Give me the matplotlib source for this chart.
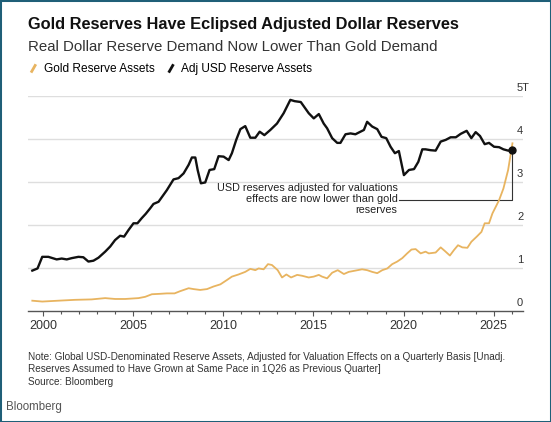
import matplotlib
matplotlib.use("Agg")
import matplotlib.pyplot as plt
from matplotlib.lines import Line2D
from matplotlib.legend_handler import HandlerBase
from matplotlib.patches import Rectangle

plt.rcParams['font.family'] = ['Liberation Sans', 'DejaVu Sans']

# Adj USD reserve assets (trillions)
usd_years = [1999.41, 1999.70, 1999.96, 2000.30, 2000.76, 2001.04, 2001.32, 2001.60,
             2001.97, 2002.24, 2002.52, 2002.80, 2003.08, 2003.45, 2003.73, 2004.00,
             2004.28, 2004.50, 2004.74, 2005.02, 2005.24, 2005.48, 2005.70, 2005.95,
             2006.13, 2006.41, 2006.87, 2007.24, 2007.52, 2007.80, 2008.08, 2008.26,
             2008.45, 2008.58, 2008.76, 2009.00, 2009.24, 2009.50, 2009.74, 2010.02,
             2010.30, 2010.48, 2010.72, 2010.95, 2011.22, 2011.50, 2011.78, 2012.02,
             2012.28, 2012.61, 2012.98, 2013.35, 2013.72, 2013.96, 2014.30, 2014.74,
             2015.02, 2015.30, 2015.57, 2015.76, 2016.04, 2016.32, 2016.50, 2016.78,
             2017.06, 2017.33, 2017.61, 2017.80, 2017.98, 2018.26, 2018.54, 2018.78,
             2019.04, 2019.28, 2019.52, 2019.74, 2020.02, 2020.30, 2020.58, 2020.82,
             2021.04, 2021.22, 2021.50, 2021.78, 2022.06, 2022.34, 2022.61, 2022.90,
             2023.17, 2023.50, 2023.76, 2024.00, 2024.24, 2024.50, 2024.74, 2025.02,
             2025.30, 2025.54, 2025.80, 2026.04]
usd = [0.94, 0.99, 1.26, 1.26, 1.20, 1.22, 1.20, 1.23,
       1.26, 1.25, 1.15, 1.17, 1.24, 1.38, 1.50, 1.65,
       1.75, 1.73, 1.88, 2.04, 2.04, 2.16, 2.26, 2.39,
       2.49, 2.54, 2.81, 3.06, 3.09, 3.20, 3.40, 3.57,
       3.57, 3.28, 2.97, 2.99, 3.28, 3.30, 3.60, 3.59,
       3.51, 3.67, 3.98, 4.23, 4.30, 4.03, 4.03, 4.17,
       4.09, 4.21, 4.36, 4.60, 4.91, 4.88, 4.86, 4.60,
       4.48, 4.58, 4.36, 4.25, 4.02, 3.91, 3.91, 4.11,
       4.13, 4.11, 4.17, 4.21, 4.40, 4.29, 4.23, 4.05,
       4.02, 3.82, 3.67, 3.72, 3.16, 3.28, 3.30, 3.47,
       3.76, 3.76, 3.74, 3.73, 3.94, 3.98, 4.04, 4.04,
       4.12, 4.19, 4.02, 4.16, 4.07, 3.88, 3.91, 3.82,
       3.81, 3.76, 3.73, 3.74]

# Gold reserve assets (trillions)
gold_years = [1999.41, 1999.96, 2000.85, 2001.78, 2002.70, 2003.45, 2004.00, 2004.56,
              2005.30, 2005.67, 2006.04, 2006.50, 2006.87, 2007.30, 2007.60, 2008.08,
              2008.35, 2008.72, 2009.10, 2009.46, 2009.84, 2010.20, 2010.48, 2010.85,
              2011.22, 2011.50, 2011.78, 2011.96, 2012.24, 2012.48, 2012.70, 2013.02,
              2013.26, 2013.50, 2013.76, 2014.10, 2014.37, 2014.74, 2015.02, 2015.30,
              2015.48, 2015.76, 2016.04, 2016.35, 2016.69, 2016.96, 2017.33, 2017.70,
              2017.98, 2018.26, 2018.54, 2018.82, 2019.10, 2019.37, 2019.65, 2019.93,
              2020.20, 2020.44, 2020.67, 2020.95, 2021.22, 2021.40, 2021.78, 2022.06,
              2022.28, 2022.57, 2022.80, 2023.02, 2023.26, 2023.54, 2023.76, 2024.06,
              2024.32, 2024.50, 2024.74, 2024.93, 2025.17, 2025.30, 2025.54, 2025.80,
              2026.04]
gold = [0.24, 0.22, 0.24, 0.26, 0.27, 0.30, 0.28, 0.28,
        0.30, 0.33, 0.39, 0.40, 0.41, 0.41, 0.46, 0.53,
        0.51, 0.49, 0.51, 0.57, 0.62, 0.72, 0.80, 0.85,
        0.91, 0.98, 0.95, 0.99, 0.97, 1.09, 1.07, 0.95,
        0.78, 0.85, 0.78, 0.84, 0.82, 0.78, 0.80, 0.84,
        0.80, 0.76, 0.89, 0.95, 0.86, 0.91, 0.94, 0.97,
        0.95, 0.91, 0.88, 0.95, 0.99, 1.09, 1.15, 1.23,
        1.34, 1.43, 1.44, 1.34, 1.38, 1.34, 1.36, 1.48,
        1.40, 1.29, 1.42, 1.53, 1.48, 1.47, 1.61, 1.73,
        1.84, 2.04, 2.04, 2.27, 2.47, 2.58, 2.85, 3.28,
        3.90]

y_ticks = [0, 1, 2, 3, 4, 5]
y_labels = ["0", "1", "2", "3", "4", "5T"]
x_major = [2000, 2005, 2010, 2015, 2020, 2025]
x_minor = list(range(2000, 2027))

GOLD = "#e8b460"
BLACK = "#111111"


class SlantHandler(HandlerBase):
    # Bloomberg style slanted legend key
    def create_artists(self, legend, orig_handle, xdescent, ydescent,
                       width, height, fontsize, trans):
        line = Line2D([width * 0.25, width * 0.75], [-height * 0.05, height * 0.95],
                      color=orig_handle.get_color(), lw=2, transform=trans,
                      solid_capstyle="butt")
        return [line]


fig = plt.figure(figsize=(5.51, 4.22), dpi=100)
ax = fig.add_axes([0.0508, 0.263, 0.8992, 0.5095])

l_gold, = ax.plot(gold_years, gold, color=GOLD, lw=1.3, label="Gold Reserve Assets", zorder=3)
l_usd, = ax.plot(usd_years, usd, color=BLACK, lw=1.7, label="Adj USD Reserve Assets", zorder=4)
ax.plot(usd_years[-1], usd[-1], "o", color=BLACK, ms=5, zorder=5)

ax.set_xlim(1999.17, 2026.65)
ax.set_ylim(0, 5)

# grid
ax.set_yticks(y_ticks[1:])
ax.yaxis.grid(True, color="#dedede", lw=1)
ax.tick_params(axis="y", length=0, labelleft=False, labelright=False)
ax.set_axisbelow(True)
for v, lab in zip(y_ticks, y_labels):
    ax.annotate(lab, xy=(0.987, v), xycoords=ax.get_yaxis_transform(),
                xytext=(0, 2), textcoords="offset points",
                ha="left", va="bottom", fontsize=8, color="#333333")

ax.set_xticks(x_major)
ax.set_xticks(x_minor, minor=True)
ax.tick_params(axis="x", which="major", length=3.5, width=0.8, color="#555555",
               labelsize=9, labelcolor="#333333", pad=3)
ax.tick_params(axis="x", which="minor", length=2.2, width=0.8, color="#555555")

for s in ["top", "left", "right"]:
    ax.spines[s].set_visible(False)
ax.spines["bottom"].set_color("#555555")
ax.spines["bottom"].set_linewidth(1)

# annotation with leader line
ax.text(2019.67, 2.60,
        "USD reserves adjusted for valuations\neffects are now lower than gold\nreserves",
        ha="right", va="center", multialignment="right", fontsize=7.8, color="#222222",
        linespacing=1.12)
ax.plot([2019.72, usd_years[-1], usd_years[-1]], [2.59, 2.59, usd[-1]],
        color="#333333", lw=0.8, zorder=2)

# titles
fig.text(0.0508, 0.943, "Gold Reserves Have Eclipsed Adjusted Dollar Reserves",
         fontsize=11.75, fontweight="bold", color="#111111", va="center")
fig.text(0.0508, 0.889, "Real Dollar Reserve Demand Now Lower Than Gold Demand",
         fontsize=10.8, color="#333333", va="center")

fig.legend(handles=[l_gold, l_usd], loc="center left", bbox_to_anchor=(0.052, 0.836),
           ncol=2, frameon=False, fontsize=8.6, handlelength=0.8, handletextpad=0.45,
           columnspacing=1.0, borderpad=0, borderaxespad=0,
           handler_map={Line2D: SlantHandler()})

fig.text(0.0508, 0.167,
         "Note: Global USD-Denominated Reserve Assets, Adjusted for Valuation Effects on a Quarterly Basis [Unadj.\n"
         "Reserves Assumed to Have Grown at Same Pace in 1Q26 as Previous Quarter]\n"
         "Source: Bloomberg",
         fontsize=7.2, color="#333333", va="top", linespacing=1.32)
fig.text(0.011, 0.036, "Bloomberg", fontsize=8.3, color="#555555", va="center")

fig.add_artist(Rectangle((0, 0), 1, 1, transform=fig.transFigure, fill=False,
                         edgecolor="#1f5f78", lw=2.2))

fig.savefig("out.png", dpi=100)
